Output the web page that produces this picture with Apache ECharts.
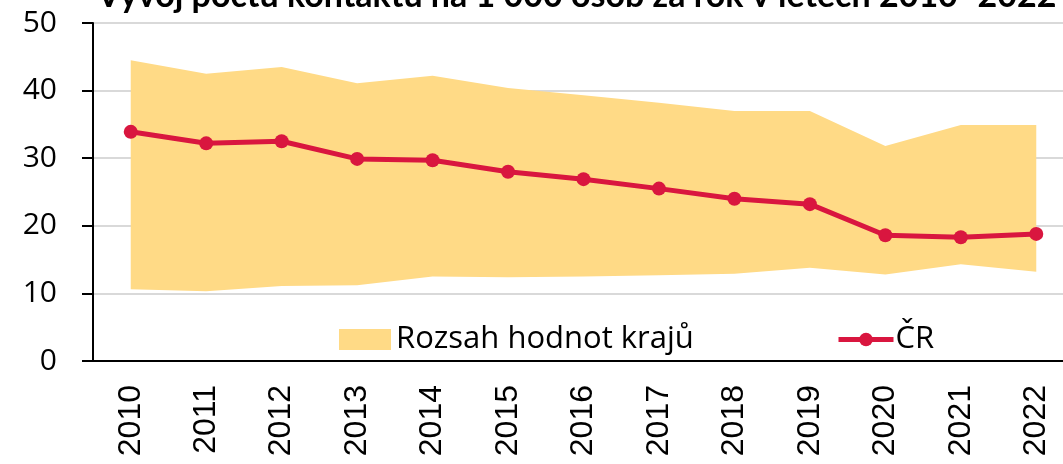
<!DOCTYPE html>
<html>
<head>
<meta charset="utf-8">
<script src="https://cdn.jsdelivr.net/npm/echarts@6/dist/echarts.min.js"></script>
<style>
  html, body { margin: 0; padding: 0; background: #fff; }
  #chart { width: 1063px; height: 464px; }
</style>
</head>
<body>
<div id="chart"></div>
<script>
// roky
const years = ['2010', '2011', '2012', '2013', '2014', '2015', '2016', '2017', '2018', '2019', '2020', '2021', '2022'];
// rozsah hodnot krajů - minimum a maximum
const krajeMin = [10.6, 10.3, 11.1, 11.2, 12.5, 12.4, 12.5, 12.7, 12.9, 13.8, 12.8, 14.3, 13.2];
const krajeMax = [44.5, 42.5, 43.5, 41.1, 42.2, 40.4, 39.3, 38.2, 37.0, 37.0, 31.8, 34.9, 34.9];
// ČR
const cr = [33.9, 32.2, 32.5, 29.9, 29.7, 28.0, 26.9, 25.5, 24.0, 23.2, 18.6, 18.3, 18.8];
const yTicks = [0, 10, 20, 30, 40, 50];

const titleText = 'Vývoj počtu kontaktů na 1 000 osob za rok v letech 2010–2022';
const yellow = '#FFDA86';
const red = '#D9163F';
const labelFont = 'Open Sans';

// rozdíl pro skládaný pás
const rozsah = krajeMax.map((v, i) => +(v - krajeMin[i]).toFixed(2));

const chart = echarts.init(document.getElementById('chart'));
chart.setOption({
    animation: false,
    // nadpis je v originále shora oříznutý
    graphic: [{
        type: 'text',
        x: 97,
        y: 13,
        silent: true,
        style: {
            text: titleText,
            font: 'bold 34px Lato',
            fill: '#000',
            verticalAlign: 'bottom'
        }
    }],
    legend: [
        {
            left: 339, top: 324,
            padding: 0,
            icon: 'rect',
            itemWidth: 52, itemHeight: 21,
            data: ['Rozsah hodnot krajů'],
            textStyle: { fontFamily: labelFont, fontSize: 31, color: '#000' }
        },
        {
            left: 836, top: 324,
            padding: 0,
            itemWidth: 55, itemHeight: 17,
            itemGap: 0,
            lineStyle: { width: 5 },
            data: ['ČR'],
            textStyle: { fontFamily: labelFont, fontSize: 31, color: '#000', padding: [0, 0, 0, -3] }
        }
    ],
    grid: { left: 93, top: 23, width: 981, height: 338, outerBoundsMode: 'none' },
    xAxis: {
        type: 'category',
        data: years,
        boundaryGap: true,
        axisLine: { lineStyle: { color: '#000', width: 2 } },
        axisTick: { length: 11, lineStyle: { color: '#000', width: 2 } },
        axisLabel: {
            rotate: 90, margin: 24, fontSize: 32,
            fontFamily: 'Liberation Sans', color: '#000'
        }
    },
    yAxis: {
        type: 'value',
        min: yTicks[0],
        max: yTicks[yTicks.length - 1],
        interval: 10,
        axisLine: { show: true, lineStyle: { color: '#000', width: 2 } },
        axisTick: { show: true, length: 11, lineStyle: { color: '#000', width: 2 } },
        splitLine: { lineStyle: { color: '#D9D9D9', width: 2 } },
        axisLabel: { margin: 36, fontSize: 30, fontFamily: labelFont, color: '#000' }
    },
    series: [
        {
            name: 'min',
            type: 'line',
            stack: 'kraje',
            data: krajeMin,
            symbol: 'none',
            lineStyle: { opacity: 0 },
            silent: true
        },
        {
            name: 'Rozsah hodnot krajů',
            type: 'line',
            stack: 'kraje',
            data: rozsah,
            symbol: 'none',
            color: yellow,
            lineStyle: { width: 0, opacity: 0 },
            areaStyle: { color: yellow, opacity: 1 },
            silent: true
        },
        {
            name: 'ČR',
            type: 'line',
            data: cr,
            color: red,
            symbol: 'circle',
            symbolSize: 14,
            lineStyle: { width: 5, color: red },
            itemStyle: { color: red },
            z: 5
        }
    ]
});
</script>
</body>
</html>
